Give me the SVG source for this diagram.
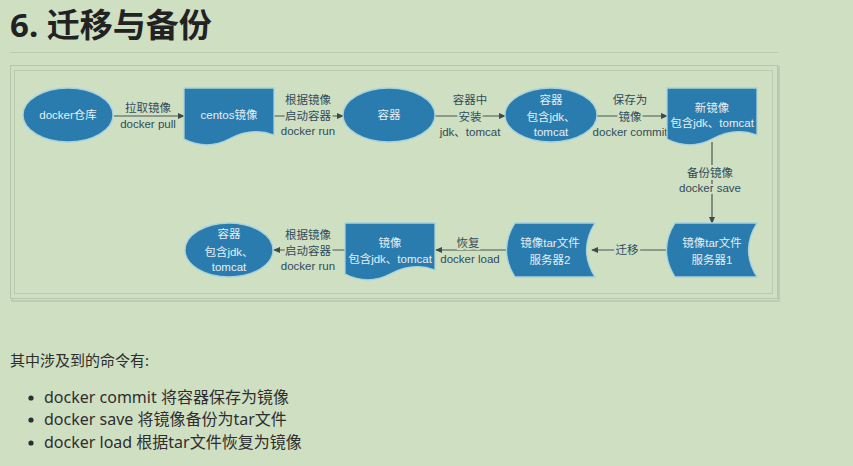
<svg xmlns="http://www.w3.org/2000/svg" width="853" height="466" viewBox="0 0 853 466">
<defs>
<marker id="ah" viewBox="0 0 8 8" refX="7" refY="4" markerWidth="7" markerHeight="7" markerUnits="userSpaceOnUse" orient="auto">
<path d="M0,0.5 L8,4 L0,7.5 Z" fill="#3e4b4a"/>
</marker>
</defs>
<style>
.bg{fill:#cfdfc2}
.node{fill:#2a7cae;stroke:#a9d3dc;stroke-width:1.3}
.nt{font-family:"Liberation Sans","Noto Sans CJK SC",sans-serif;font-size:11.5px;fill:#e4eff4;text-anchor:middle}
.lb{font-family:"Liberation Sans","Noto Sans CJK SC",sans-serif;font-size:11.5px;fill:#2f4c5c;text-anchor:middle;stroke:#cfdfc2;stroke-width:4;paint-order:stroke;stroke-linejoin:round}
.cn{fill:none;stroke:#4a5755;stroke-width:1.2;marker-end:url(#ah)}
.body{font-family:"Noto Sans","Noto Sans CJK SC",sans-serif;fill:#2e2e2e}
</style>
<rect class="bg" x="0" y="0" width="853" height="466"/>
<text x="10" y="37" font-family="Noto Sans, Noto Sans CJK SC, sans-serif" font-size="33" font-weight="bold" fill="#222">6. 迁移与备份</text>
<line x1="10" y1="52.5" x2="778" y2="52.5" stroke="#bccbb0" stroke-width="1"/>
<g id="frame">
<rect x="12" y="67" width="767" height="234" fill="none" stroke="#b3c1a7" stroke-width="2" opacity="0.6"/>
<rect x="10.5" y="65.5" width="767" height="233" fill="#cfdfc2" stroke="#b7c5ab" stroke-width="1"/>
<rect x="14.5" y="70.5" width="758" height="223" fill="none" stroke="#bccab0" stroke-width="1"/>
</g>
<g id="connectors">
<line class="cn" x1="114" y1="116" x2="184" y2="116"/>
<line class="cn" x1="274" y1="116" x2="343" y2="116"/>
<line class="cn" x1="435" y1="116" x2="505" y2="116"/>
<line class="cn" x1="597" y1="116" x2="667" y2="116"/>
<line class="cn" x1="712" y1="142" x2="712" y2="223"/>
<line class="cn" x1="668" y1="250" x2="592" y2="250"/>
<line class="cn" x1="507" y1="250" x2="436" y2="250"/>
<line class="cn" x1="345" y1="250" x2="274" y2="250"/>
<text class="lb" x="148" y="112">拉取镜像</text>
<text class="lb" x="148" y="128">docker pull</text>
<text class="lb" x="308" y="104">根据镜像</text>
<text class="lb" x="308" y="120">启动容器</text>
<text class="lb" x="308" y="135">docker run</text>
<text class="lb" x="470" y="104">容器中</text>
<text class="lb" x="470" y="121">安装</text>
<text class="lb" x="470" y="136">jdk、tomcat</text>
<text class="lb" x="630" y="104">保存为</text>
<text class="lb" x="630" y="121">镜像</text>
<text class="lb" x="630" y="136">docker commit</text>
<text class="lb" x="710" y="177">备份镜像</text>
<text class="lb" x="710" y="192">docker save</text>
<text class="lb" x="627" y="254">迁移</text>
<text class="lb" x="468" y="247">恢复</text>
<text class="lb" x="470" y="263">docker load</text>
<text class="lb" x="308" y="239">根据镜像</text>
<text class="lb" x="308" y="255">启动容器</text>
<text class="lb" x="308" y="270">docker run</text>
</g>
<g id="n-repo">
<ellipse class="node" cx="68" cy="115" rx="45" ry="27"/>
<text class="nt" x="68" y="119">docker仓库</text>
</g>
<g id="n-centos">
<path class="node" d="M184,88 H274 V135 C258,129 244,131 229,139 C214,147 198,146 184,139 Z"/>
<text class="nt" x="229" y="119">centos镜像</text>
</g>
<g id="n-container">
<ellipse class="node" cx="389" cy="115" rx="46" ry="27"/>
<text class="nt" x="389" y="119">容器</text>
</g>
<g id="n-container-jdk">
<ellipse class="node" cx="551" cy="115" rx="46" ry="27"/>
<text class="nt" x="551" y="104">容器</text>
<text class="nt" x="551" y="121">包含jdk、</text>
<text class="nt" x="551" y="136">tomcat</text>
</g>
<g id="n-newimage">
<path class="node" d="M667,88 H757 V135 C741,129 727,131 712,139 C697,147 681,146 667,139 Z"/>
<text class="nt" x="712" y="112">新镜像</text>
<text class="nt" x="712" y="127">包含jdk、tomcat</text>
</g>
<g id="n-tar1">
<path class="node" d="M675,223 H757 Q740,250 757,277 H675 Q658,250 675,223 Z"/>
<text class="nt" x="712" y="247">镜像tar文件</text>
<text class="nt" x="712" y="264">服务器1</text>
</g>
<g id="n-tar2">
<path class="node" d="M515,223 H595 Q578,250 595,277 H515 Q498,250 515,223 Z"/>
<text class="nt" x="550" y="247">镜像tar文件</text>
<text class="nt" x="550" y="264">服务器2</text>
</g>
<g id="n-image">
<path class="node" d="M345,223 H435 V270 C419,264 405,266 390,274 C375,282 359,281 345,274 Z"/>
<text class="nt" x="390" y="247">镜像</text>
<text class="nt" x="390" y="263">包含jdk、tomcat</text>
</g>
<g id="n-container2">
<ellipse class="node" cx="229" cy="250" rx="44" ry="27"/>
<text class="nt" x="229" y="238">容器</text>
<text class="nt" x="229" y="256">包含jdk、</text>
<text class="nt" x="229" y="271">tomcat</text>
</g>
<g id="notes">
<text class="body" x="10" y="366" font-size="15">其中涉及到的命令有:</text>
<circle cx="31" cy="398" r="2.6" fill="#2e2e2e"/>
<circle cx="31" cy="420" r="2.6" fill="#2e2e2e"/>
<circle cx="31" cy="443" r="2.6" fill="#2e2e2e"/>
<text class="body" x="44" y="403" font-size="16">docker commit 将容器保存为镜像</text>
<text class="body" x="44" y="425" font-size="16">docker save 将镜像备份为tar文件</text>
<text class="body" x="44" y="448" font-size="16">docker load 根据tar文件恢复为镜像</text>
</g>
</svg>
